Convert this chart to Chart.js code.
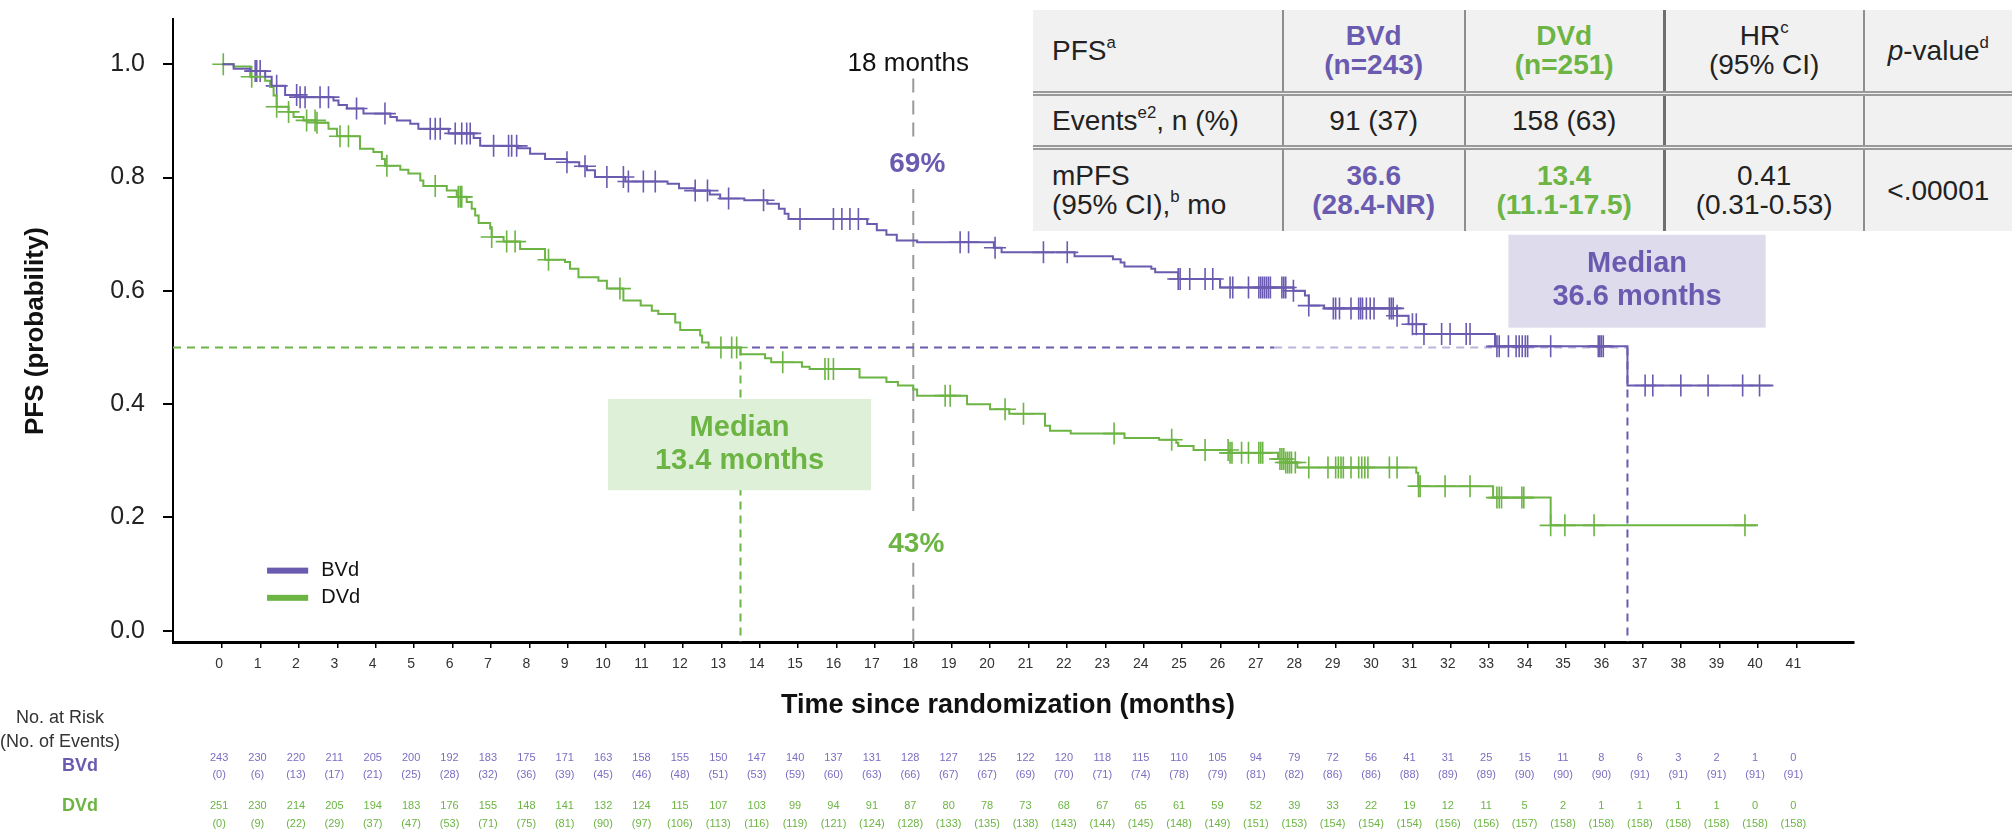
<!DOCTYPE html>
<html>
<head>
<meta charset="utf-8">
<title>PFS BVd vs DVd</title>
<script src="https://cdn.jsdelivr.net/npm/chart.js@4.4.1/dist/chart.umd.min.js"></script>
<style>
  html, body { margin: 0; padding: 0; background: #fff; overflow: hidden; }
  #wrap { position: relative; width: 2012px; height: 832px; }
  #wrap canvas { position: absolute; left: 0; top: 0; }
  #pfs { position: absolute; left: 1033px; top: 10px; border-collapse: collapse; table-layout: fixed;
         background: #f1f1f1; font-family: "Liberation Sans", Arial, sans-serif; font-size: 28px; color: #222; }
  #pfs td { text-align: center; vertical-align: middle; padding: 0; line-height: 29px; border-left: 2px solid #8e8e8e; }
  #pfs td:first-child { text-align: left; padding-left: 19px; border-left: none; }
  #pfs td.sep { border-left: 3px solid #6f6f6f; }
  #pfs tr + tr td { border-top: 5px double #9a9a9a; }
  #pfs sup { font-size: 60%; line-height: 0; vertical-align: 0.7em; }
  .b { color: #6b5bb0; font-weight: bold; }
  .d { color: #6cb443; font-weight: bold; }
</style>
</head>
<body>
<div id="wrap">
  <canvas id="km" width="2012" height="832"></canvas>
  <table id="pfs">
    <colgroup><col style="width:254px"><col style="width:185px"><col style="width:203px"><col style="width:204px"><col style="width:150px"></colgroup>
    <tr style="height:83px">
      <td>PFS<sup>a</sup></td>
      <td class="b">BVd<br>(n=243)</td>
      <td class="d">DVd<br>(n=251)</td>
      <td class="sep">HR<sup>c</sup><br>(95% CI)</td>
      <td><i>p</i>-value<sup>d</sup></td>
    </tr>
    <tr style="height:54px">
      <td>Events<sup>e2</sup>, n (%)</td>
      <td>91 (37)</td>
      <td>158 (63)</td>
      <td class="sep"></td>
      <td></td>
    </tr>
    <tr style="height:84px">
      <td>mPFS<br>(95% CI),<sup>b</sup> mo</td>
      <td class="b">36.6<br>(28.4-NR)</td>
      <td class="d">13.4<br>(11.1-17.5)</td>
      <td class="sep">0.41<br>(0.31-0.53)</td>
      <td>&lt;.00001</td>
    </tr>
  </table>
</div>
<script>
const FONT = '"Liberation Sans", Arial, sans-serif';
const PURPLE = '#6b5bb0';
const GREEN = '#6cb443';

const monthTicks = [0,1,2,3,4,5,6,7,8,9,10,11,12,13,14,15,16,17,18,19,20,
  21,22,23,24,25,26,27,28,29,30,31,32,33,34,35,36,37,38,39,40,41];
const yTicks = [0, 0.2, 0.4, 0.6, 0.8, 1.0];

// Kaplan-Meier steps (time in months, survival)
const bvdTime = [0,0.3,0.73,1.12,1.29,1.64,2.03,2.9,3.03,3.25,3.68,4.38,4.55,4.9,5.11,5.9,6.55,6.72,7.7,8.02,
  8.41,8.98,9.3,9.5,9.71,10.5,11.6,11.9,12.3,12.7,12.97,13.6,14.2,14.5,14.65,14.75,16.8,17.05,17.3,17.57,
  18.1,20.1,20.3,22.2,23.2,23.4,23.5,24.2,24.3,24.9,25.99,27.9,28.2,28.3,28.7,30.6,30.9,31.3,33.15,36.6,40.4];
const bvdSurv = [1,0.992,0.988,0.978,0.962,0.946,0.942,0.936,0.928,0.922,0.913,0.907,0.901,0.895,0.886,0.878,0.870,0.856,0.852,0.842,
  0.833,0.827,0.820,0.813,0.801,0.793,0.789,0.781,0.777,0.770,0.763,0.760,0.754,0.745,0.736,0.727,0.718,0.707,0.699,0.689,
  0.686,0.676,0.668,0.661,0.656,0.650,0.643,0.639,0.633,0.621,0.606,0.600,0.592,0.574,0.569,0.556,0.541,0.524,0.502,0.433,0.433];
const bvdCensor = [0.86,0.9,0.99,1.42,1.94,2.03,2.16,2.55,2.77,3.5,4.24,5.42,5.55,5.68,6.07,6.24,6.37,6.46,7.07,7.46,
  7.54,7.67,8.98,9.45,10.02,10.45,10.58,10.97,11.28,12.32,12.64,13.19,14.1,15.05,15.92,16.14,16.35,16.57,19.22,19.44,
  20.13,21.39,22.01,24.9,24.95,25.2,25.6,25.8,26.25,26.32,26.73,27.0,27.05,27.1,27.15,27.2,27.25,27.3,27.6,27.65,
  27.7,27.9,28.3,28.94,29.0,29.1,29.4,29.6,29.65,29.7,29.8,29.9,30.0,30.4,30.45,30.5,30.6,31.0,31.1,31.3,
  31.76,31.98,32.4,32.5,33.2,33.26,33.5,33.7,33.78,33.86,33.94,34.0,34.6,35.84,35.88,35.92,35.97,37.06,37.26,37.99,
  38.7,39.6,40.04];

const dvdTime = [0,0.3,0.73,1.12,1.25,1.34,1.42,1.73,1.86,2.12,2.45,2.77,2.99,3.59,3.94,4.16,4.24,4.64,4.85,5.16,
  5.24,5.85,6.11,6.37,6.5,6.59,6.68,6.98,7.02,7.33,7.76,8.41,8.93,9.06,9.28,9.8,10.02,10.45,10.9,11.19,
  11.36,11.8,11.93,12.45,12.5,12.67,13.5,14.14,14.3,15.1,15.3,16.6,17.3,17.6,18.0,18.1,19.4,20.0,20.5,21.43,
  21.56,22.1,23.5,24.4,24.85,24.9,25.3,26.25,27.5,27.7,28.0,31.1,31.15,33.1,34.6,40.0];
const dvdSurv = [1,0.996,0.978,0.971,0.96,0.945,0.925,0.916,0.907,0.901,0.897,0.886,0.873,0.851,0.845,0.833,0.821,0.814,0.807,0.795,
  0.785,0.777,0.766,0.757,0.745,0.733,0.72,0.71,0.695,0.687,0.674,0.655,0.651,0.639,0.624,0.618,0.604,0.583,0.574,0.565,
  0.559,0.544,0.531,0.521,0.509,0.5,0.488,0.481,0.474,0.466,0.462,0.447,0.439,0.433,0.426,0.415,0.4,0.391,0.383,0.362,
  0.353,0.348,0.34,0.337,0.332,0.326,0.319,0.314,0.303,0.297,0.288,0.279,0.255,0.235,0.186,0.186];
const dvdCensor = [0.03,0.77,1.42,1.73,2.2,2.42,2.47,3.07,3.29,4.29,5.55,6.15,6.2,6.24,7.02,7.41,7.63,8.5,10.36,12.99,
  13.27,13.4,14.6,15.7,15.79,15.92,18.83,18.96,20.39,20.87,23.23,24.73,25.6,26.2,26.25,26.3,26.55,26.73,27.0,27.05,
  27.1,27.55,27.6,27.65,27.7,27.75,27.8,27.85,27.95,28.3,28.8,29.0,29.07,29.14,29.2,29.4,29.6,29.68,29.76,29.84,
  30.4,30.6,31.16,31.2,31.85,32.5,33.2,33.26,33.32,33.85,33.9,34.6,34.97,35.73,39.66];

// numbers at risk / events, one per month tick
const bvdRisk = [243,230,220,211,205,200,192,183,175,171,163,158,155,150,147,140,137,131,128,127,125,
  122,120,118,115,110,105,94,79,72,56,41,31,25,15,11,8,6,3,2,1,0];
const bvdEvents = [0,6,13,17,21,25,28,32,36,39,45,46,48,51,53,59,60,63,66,67,67,
  69,70,71,74,78,79,81,82,86,86,88,89,89,90,90,90,91,91,91,91,91];
const dvdRisk = [251,230,214,205,194,183,176,155,148,141,132,124,115,107,103,99,94,91,87,80,78,
  73,68,67,65,61,59,52,39,33,22,19,12,11,5,2,1,1,1,1,0,0];
const dvdEvents = [0,9,22,29,37,47,53,71,75,81,90,97,106,113,116,119,121,124,128,133,135,
  138,143,144,145,148,149,151,153,154,154,154,156,156,157,158,158,158,158,158,158,158];

const landmark = 18;
const bvdAt18 = '69%';
const dvdAt18 = '43%';
const bvdMedianX = 36.6;
const dvdMedianX = 13.5;

function stepValue(t, s, at) {
  let v = s[0];
  for (let i = 0; i < t.length; i++) if (t[i] <= at) v = s[i];
  return v;
}

const stepSet = (t, s, color) => ({
  data: t.map((x, i) => ({ x, y: s[i] })),
  showLine: true, stepped: 'before', borderColor: color, borderWidth: 2, pointRadius: 0, order: 1
});
const censorSet = (times, t, s, color) => ({
  data: times.map(x => ({ x, y: stepValue(t, s, x) })),
  showLine: false, pointStyle: 'cross', pointRadius: 11, pointBorderWidth: 1.6,
  borderColor: color, backgroundColor: color, order: 2
});
const dashSet = (pts, color, dash) => ({
  data: pts, showLine: true, borderColor: color, borderWidth: 2, borderDash: dash, pointRadius: 0, order: 5
});

const medianBoxes = [
  { x0: 33.5, x1: 40.2, y0: 0.699, y1: 0.535, fill: '#dedcec', color: PURPLE, lines: ['Median', '36.6 months'] },
  { x0: 10.05, x1: 16.9, y0: 0.409, y1: 0.248, fill: '#dff0d8', color: GREEN, lines: ['Median', '13.4 months'] }
];

const extras = {
  id: 'extras',
  afterDatasetsDraw(chart) {
    const { ctx, scales: { x, y } } = chart;
    ctx.save();
    ctx.textAlign = 'center';
    ctx.textBaseline = 'middle';
    medianBoxes.forEach(b => {
      const l = x.getPixelForValue(b.x0), r = x.getPixelForValue(b.x1);
      const t = y.getPixelForValue(b.y0), bt = y.getPixelForValue(b.y1);
      ctx.fillStyle = b.fill;
      ctx.fillRect(l, t, r - l, bt - t);
      ctx.fillStyle = b.color;
      ctx.font = `bold 29px ${FONT}`;
      const cx = (l + r) / 2, cy = (t + bt) / 2;
      ctx.fillText(b.lines[0], cx, cy - 17);
      ctx.fillText(b.lines[1], cx, cy + 16);
    });
    ctx.font = `bold 28px ${FONT}`;
    ctx.fillStyle = PURPLE;
    ctx.fillText(bvdAt18, x.getPixelForValue(landmark) + 4, y.getPixelForValue(0.824));
    ctx.fillStyle = GREEN;
    ctx.fillText(dvdAt18, x.getPixelForValue(landmark) + 3, y.getPixelForValue(0.152));
    ctx.font = `26px ${FONT}`;
    ctx.fillStyle = '#111';
    ctx.fillText('18 months', x.getPixelForValue(landmark) - 5, y.getPixelForValue(1.0));

    // legend
    [[PURPLE, 'BVd', 0.106], [GREEN, 'DVd', 0.058]].forEach(([c, name, v]) => {
      const py = y.getPixelForValue(v);
      ctx.fillStyle = c;
      ctx.fillRect(x.getPixelForValue(1.17), py - 3, x.getPixelForValue(2.24) - x.getPixelForValue(1.17), 6);
      ctx.fillStyle = '#111';
      ctx.font = `20px ${FONT}`;
      ctx.textAlign = 'left';
      ctx.fillText(name, x.getPixelForValue(2.58), py);
      ctx.textAlign = 'center';
    });
    ctx.restore();
  },
  afterDraw(chart) {
    const { ctx, scales: { x } } = chart;
    ctx.save();
    ctx.textAlign = 'center';
    ctx.textBaseline = 'middle';
    ctx.fillStyle = '#111';
    ctx.font = `bold 27px ${FONT}`;
    ctx.fillText('Time since randomization (months)', 1008, 706);
    ctx.save();
    ctx.translate(36, 331);
    ctx.rotate(-Math.PI / 2);
    ctx.font = `bold 26px ${FONT}`;
    ctx.fillText('PFS (probability)', 0, 0);
    ctx.restore();

    ctx.font = `18px ${FONT}`;
    ctx.fillStyle = '#333';
    ctx.fillText('No. at Risk', 60, 718);
    ctx.fillText('(No. of Events)', 60, 742);
    ctx.font = `bold 18px ${FONT}`;
    ctx.fillStyle = PURPLE;
    ctx.fillText('BVd', 80, 766);
    ctx.fillStyle = GREEN;
    ctx.fillText('DVd', 80, 806);

    ctx.font = `11px ${FONT}`;
    monthTicks.forEach((m, i) => {
      const px = x.getPixelForValue(m) - 3;
      ctx.fillStyle = '#7b6dc2';
      ctx.fillText(String(bvdRisk[i]), px, 758);
      ctx.fillText(`(${bvdEvents[i]})`, px, 775);
      ctx.fillStyle = GREEN;
      ctx.fillText(String(dvdRisk[i]), px, 806);
      ctx.fillText(`(${dvdEvents[i]})`, px, 824);
    });
    ctx.restore();
  }
};

new Chart(document.getElementById('km'), {
  type: 'scatter',
  data: {
    datasets: [
      stepSet(bvdTime, bvdSurv, PURPLE),
      stepSet(dvdTime, dvdSurv, GREEN),
      censorSet(bvdCensor, bvdTime, bvdSurv, PURPLE),
      censorSet(dvdCensor, dvdTime, dvdSurv, GREEN),
      dashSet([{ x: -1.28, y: 0.5 }, { x: 12.67, y: 0.5 }], GREEN, [8, 6]),
      dashSet([{ x: dvdMedianX, y: 0.5 }, { x: dvdMedianX, y: -0.02 }], GREEN, [8, 6]),
      dashSet([{ x: 13.8, y: 0.5 }, { x: 27.4, y: 0.5 }], PURPLE, [8, 6]),
      dashSet([{ x: 27.4, y: 0.5 }, { x: bvdMedianX, y: 0.5 }], 'rgba(107,91,176,0.45)', [8, 6]),
      dashSet([{ x: bvdMedianX, y: 0.5 }, { x: bvdMedianX, y: -0.02 }], PURPLE, [8, 6]),
      dashSet([{ x: landmark, y: 0.975 }, { x: landmark, y: 0.865 }], '#999', [14, 8]),
      dashSet([{ x: landmark, y: 0.78 }, { x: landmark, y: 0.2 }], '#999', [14, 8]),
      dashSet([{ x: landmark, y: 0.12 }, { x: landmark, y: -0.02 }], '#999', [14, 8])
    ]
  },
  options: {
    responsive: false,
    animation: false,
    events: [],
    layout: { padding: { left: 0, right: 158, top: 19, bottom: 150 } },
    scales: {
      x: {
        type: 'linear', min: -1.28, max: 42.5,
        afterBuildTicks: s => { s.ticks = monthTicks.map(v => ({ value: v })); },
        afterFit: s => { s.height = 40; s.paddingLeft = 0; s.paddingRight = 0; },
        grid: { drawOnChartArea: false, tickLength: 6, color: '#000', lineWidth: 1.5 },
        border: { display: true, color: '#000', width: 3 },
        ticks: { autoSkip: false, maxRotation: 0, padding: 8, labelOffset: -3, color: '#333', font: { family: FONT, size: 14 } }
      },
      y: {
        min: -0.02, max: 1.08,
        afterBuildTicks: s => { s.ticks = yTicks.map(v => ({ value: v })); },
        afterFit: s => { s.width = 173; s.paddingTop = 0; s.paddingBottom = 0; },
        grid: { drawOnChartArea: false, tickLength: 10, color: '#000', lineWidth: 2 },
        border: { display: true, color: '#000', width: 2 },
        ticks: { padding: 18, color: '#222', font: { family: FONT, size: 25 }, callback: v => v.toFixed(1) }
      }
    },
    plugins: { legend: { display: false }, tooltip: { enabled: false } }
  },
  plugins: [extras]
});
</script>
</body>
</html>
